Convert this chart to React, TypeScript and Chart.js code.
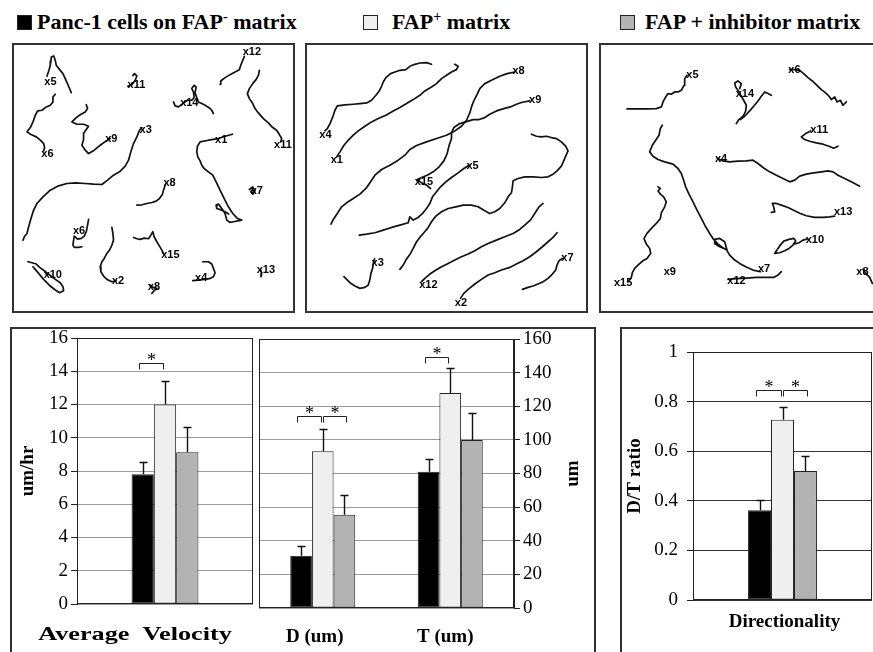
import React, { useEffect, useRef } from "react";
import { Chart, registerables } from "chart.js";

Chart.register(...registerables);

// ---------- Legend / series ----------
const seriesHead = ["Panc-1 cells on FAP", "FAP", "FAP + inhibitor matrix"];
const seriesSup = ["-", "+", ""];
const seriesTail = [" matrix", " matrix", ""];
const seriesFill = ["#000000", "#efefef", "#b3b3b3"];

// ---------- Average velocity (um/hr) ----------
const velocityCategories = ["Average  Velocity"];
const velocityFapNeg = [7.8];
const velocityFapPos = [12.0];
const velocityFapInh = [9.13];
const velocityErrFapNeg = [0.74];
const velocityErrFapPos = [1.43];
const velocityErrFapInh = [1.49];
const velocityMax = 16;
const velocityStep = 2;
// [category, fromSeries, toSeries, level]
const velocitySig = [[0, 0, 1, 14.5]];

// ---------- Distance D and total path T (um) ----------
const distCategories = ["D (um)", "T (um)"];
const distFapNeg = [31.1, 81.1];
const distFapPos = [93.3, 127.9];
const distFapInh = [55.4, 100.0];
const distErrFapNeg = [5.7, 7.7];
const distErrFapPos = [13.2, 14.6];
const distErrFapInh = [11.8, 16.2];
const distMax = 160;
const distStep = 20;
const distSig = [
  [0, 0, 1, 114],
  [0, 1, 2, 114],
  [1, 0, 1, 149],
];

// ---------- Directionality (D/T ratio) ----------
const ratioCategories = ["Directionality"];
const ratioFapNeg = [0.362];
const ratioFapPos = [0.727];
const ratioFapInh = [0.52];
const ratioErrFapNeg = [0.042];
const ratioErrFapPos = [0.053];
const ratioErrFapInh = [0.061];
const ratioMax = 1;
const ratioStep = 0.2;
const ratioSig = [
  [0, 0, 1, 0.848],
  [0, 1, 2, 0.848],
];

// ---------- Cell tracks (image units) ----------
const fapNegTracks = [
  [[213,157],[205,138],[198,122],[188,100],[178,88],[168,75],[165,60],[160,47],[153,50],[152,62],[150,75],[146,90],[140,108]],
  [[383,138],[395,133],[405,120],[410,107],[403,100],[398,106]],
  [[165,162],[158,170],[158,185],[150,195],[138,200],[125,210],[112,212],[105,225],[98,245],[90,262],[80,275],[92,283],[108,290],[120,300],[130,310],[133,322],[130,332]],
  [[258,193],[262,205],[255,215],[242,222],[228,232],[215,245],[230,252],[250,252],[265,258],[258,268],[250,280],[250,298],[245,315],[255,330],[265,340],[282,330],[300,315],[318,302],[330,295]],
  [[425,262],[418,270],[410,290],[400,310],[392,335],[385,360],[375,378],[358,395],[340,405],[322,420],[305,433],[280,432],[255,430],[225,428],[200,430],[175,437],[150,450],[128,470],[110,490],[100,510],[92,535],[85,560],[80,580],[72,590],[68,600]],
  [[520,185],[525,197],[535,200],[548,190],[562,180],[575,180],[582,172],[580,155],[575,145],[582,135],[588,140],[585,158],[590,172],[595,185],[605,190],[615,195],[628,203],[635,210],[640,220]],
  [[660,132],[662,122],[675,112],[690,103],[705,95],[718,88],[722,75],[728,60],[733,48]],
  [[778,90],[775,105],[768,118],[758,130],[748,145],[742,160],[748,175],[758,190],[765,205],[775,218],[790,235],[805,248],[818,262],[830,270],[838,283],[845,295],[842,305]],
  [[697,282],[675,288],[655,295],[625,300],[600,305],[592,318],[590,335],[593,350],[600,362],[605,375],[612,385],[625,395],[638,405],[648,425],[660,450],[672,475],[685,500],[698,520],[712,535],[725,540],[700,545],[690,547],[680,540],[675,520],[665,505],[655,492],[648,495],[650,505],[665,510],[680,518],[686,522]],
  [[748,448],[758,440],[765,452],[758,462],[752,455],[760,446]],
  [[410,495],[425,494],[440,490],[455,487],[468,483],[478,475],[487,462],[490,450],[496,432]],
  [[265,538],[262,555],[258,575],[252,588],[243,595],[232,597],[222,588],[220,600],[218,615],[222,622],[235,622],[245,620]],
  [[335,562],[338,580],[340,600],[335,615],[328,630],[320,640],[312,655],[305,665],[300,680],[302,695],[310,708],[320,718],[335,725],[348,722]],
  [[400,592],[410,596],[420,598],[432,594],[445,596],[452,585],[458,575],[462,590],[470,605],[478,618],[485,630],[490,640]],
  [[83,665],[95,668],[108,672],[118,682],[132,692],[148,705],[165,718],[180,728],[188,740],[190,752],[178,758],[165,750],[150,738],[130,718],[115,700],[105,688],[98,680]],
  [[608,665],[625,665],[635,672],[640,685],[645,698],[640,710],[628,716],[612,718],[595,720],[578,722]],
  [[450,735],[458,742],[470,745],[462,752],[455,760]],
  [[782,690],[785,700],[783,710]],
];
const fapNegNames = ["x5","x11","x14","x12","x3","x9","x6","x1","x11","x8","x7","x6","x15","x10","x2","x4","x13","x8"];
const fapNegSpots = [[132,125],[382,133],[540,188],[728,35],[418,268],[315,297],[123,342],[645,300],[822,315],[490,428],[752,452],[218,572],[483,645],[130,705],[335,722],[585,713],[770,690],[443,740]];

const fapPosTracks = [
  [[395,72],[380,67],[360,68],[345,72],[330,78],[318,88],[300,90],[285,95],[272,100],[258,112],[250,125],[245,138],[238,152],[228,165],[215,180],[200,188],[180,190],[160,192],[135,194],[112,197],[105,210],[100,225],[95,238],[90,250],[82,265],[75,272]],
  [[465,72],[475,78],[470,88],[455,95],[440,105],[425,115],[410,130],[395,140],[375,152],[360,165],[340,178],[320,190],[300,202],[280,212],[258,225],[235,235],[215,245],[195,258],[175,272],[160,285],[145,300],[132,315],[120,335],[110,350]],
  [[645,95],[622,100],[600,108],[575,120],[555,130],[540,145],[532,162],[522,182],[515,200],[510,218],[500,240],[485,258],[465,272],[440,285],[410,295],[380,305],[350,316],[330,328],[315,345],[295,360],[270,375],[245,388],[225,405],[212,425],[198,445],[180,462],[160,475],[140,488],[125,500],[112,520],[100,538],[93,552]],
  [[690,182],[668,186],[650,192],[632,200],[612,205],[590,212],[570,222],[555,232],[538,238],[520,238],[500,244],[480,250],[462,262],[455,278],[455,295],[448,315],[442,340],[432,362],[418,380],[400,395],[382,405],[365,412],[352,418],[365,428],[380,435],[392,445]],
  [[508,375],[492,385],[475,398],[455,412],[438,425],[422,440],[410,455],[398,470],[390,490],[380,505],[368,520],[355,532],[340,540],[330,530],[325,548],[300,555],[275,562],[250,570],[225,578],[200,582],[178,585]],
  [[695,282],[710,288],[725,290],[740,288],[755,292],[770,295],[785,305],[798,318],[805,332],[798,348],[792,362],[785,378],[772,392],[760,402],[745,410],[725,412],[700,410],[675,410],[655,415],[640,422],[638,440],[635,458],[625,470],[615,488],[600,505],[585,515],[570,520],[555,512],[535,500],[515,495],[490,495],[468,500],[445,505],[425,515],[408,528],[395,545],[385,562],[372,578],[360,592],[350,605],[340,625],[332,640],[318,660],[310,675],[300,688]],
  [[730,490],[718,500],[705,520],[692,540],[675,555],[660,568],[640,580],[615,590],[590,600],[565,610],[545,620],[525,632],[505,642],[485,650],[465,660],[445,670],[425,680],[405,692],[390,702],[375,715],[365,725]],
  [[772,578],[760,592],[745,605],[728,620],[710,635],[690,650],[670,662],[650,672],[630,682],[605,690],[585,698],[565,705],[545,718],[525,732],[505,748],[492,760],[482,775]],
  [[788,655],[778,662],[772,675],[768,690],[758,702],[745,715],[730,725],[715,732],[700,738],[685,742],[668,748]],
  [[132,710],[140,718],[150,728],[165,738],[180,745],[195,742],[205,735],[210,718],[213,700],[218,685],[220,670],[224,656]],
];
const fapPosNames = ["x4","x1","x8","x9","x5","x15","x12","x2","x7","x3"];
const fapPosSpots = [[58,285],[92,360],[638,92],[688,180],[500,378],[345,425],[358,735],[465,789],[785,655],[215,668]];

const fapInhTracks = [
  [[112,206],[140,206],[170,206],[200,205],[215,200],[220,185],[228,170],[235,160],[245,162],[255,155],[265,155],[275,150],[283,135],[285,115],[292,105]],
  [[440,250],[446,240],[455,232],[462,225],[468,212],[470,195],[462,180],[455,168],[448,155],[438,140],[435,128],[445,122],[455,130],[450,145]],
  [[452,238],[465,228],[480,212],[492,198],[505,182],[515,168],[525,155],[535,160],[545,165]],
  [[600,88],[615,88],[630,90],[642,100],[655,112],[668,122],[682,135],[695,148],[708,158],[718,168],[725,178],[735,170],[742,185],[752,180],[760,195],[770,185]],
  [[663,272],[648,280],[635,290],[645,298],[660,303],[680,308],[700,312],[718,318],[732,324],[745,318]],
  [[383,355],[400,362],[420,365],[445,363],[470,362],[490,360],[505,370],[520,382],[540,395],[560,405],[580,415],[600,425],[615,420],[630,408],[650,402],[672,398],[695,395],[715,392],[730,395],[745,405],[765,415],[785,425],[810,438]],
  [[218,255],[212,265],[208,285],[198,300],[188,315],[180,335],[190,348],[205,358],[225,365],[250,372],[265,385],[275,400],[282,420],[288,440],[298,462],[310,485],[322,510],[335,535],[348,560],[360,580],[372,598],[385,612],[398,622],[412,630],[405,605],[390,595],[375,598],[375,610],[390,620],[410,628],[420,645],[435,660],[450,670],[468,680],[490,690],[512,695]],
  [[205,440],[212,445],[205,452],[212,462],[222,470],[230,485],[225,500],[215,518],[212,535],[200,550],[185,565],[172,580],[163,595],[170,612],[180,625],[183,640],[172,655],[160,662],[148,672],[135,685],[128,698],[125,712],[118,722]],
  [[545,517],[555,515],[552,500],[548,490],[560,490],[575,495],[595,502],[615,512],[632,520],[650,527],[675,532],[700,532],[720,530],[735,528]],
  [[555,640],[562,630],[572,615],[582,603],[598,598],[612,595],[618,602],[610,615],[598,625],[585,632],[570,638],[555,640]],
  [[612,612],[628,608],[640,600],[652,597]],
  [[415,718],[440,716],[470,714],[500,712],[530,712],[552,712],[565,705],[575,695]],
  [[820,688],[828,700],[840,712],[848,730]],
];
const fapInhNames = ["x5","x14","x6","x11","x4","x13","x10","x9","x7","x12","x15","x8"];
const fapInhSpots = [[290,103],[438,160],[596,88],[662,270],[376,355],[733,515],[648,600],[222,695],[505,688],[413,722],[73,728],[800,695]];

const SERIF = '"Liberation Serif", "Times New Roman", serif';

type Pt = number[];

function TrackPanel(props: {
  left: number; top: number; width: number; height: number;
  xMin: number; xMax: number; yMin: number; yMax: number;
  tracks: Pt[][]; names: string[]; spots: Pt[];
}) {
  const ref = useRef<HTMLCanvasElement>(null);
  useEffect(() => {
    const { tracks, names, spots } = props;
    const labelPlugin = {
      id: "trackLabels",
      afterDatasetsDraw(chart: any) {
        const ctx = chart.ctx;
        const sx = chart.scales.x;
        const sy = chart.scales.y;
        ctx.save();
        ctx.font = 'bold 11px "Liberation Sans", Arial, sans-serif';
        ctx.fillStyle = "#000";
        ctx.textAlign = "left";
        ctx.textBaseline = "middle";
        names.forEach((n, i) => {
          ctx.fillText(n, sx.getPixelForValue(spots[i][0]), sy.getPixelForValue(spots[i][1]));
        });
        ctx.restore();
      },
    };
    const chart = new Chart(ref.current as HTMLCanvasElement, {
      type: "scatter",
      data: {
        datasets: tracks.map((t, i) => ({
          label: "cell " + (i + 1),
          data: t.map((p) => ({ x: p[0], y: p[1] })),
          showLine: true,
          borderColor: "#111",
          borderWidth: 1.7,
          borderJoinStyle: "round",
          borderCapStyle: "round",
          pointRadius: 0,
          tension: 0,
          fill: false,
        })),
      },
      options: {
        animation: false,
        responsive: false,
        events: [],
        layout: { padding: 0 },
        plugins: { legend: { display: false }, tooltip: { enabled: false } },
        scales: {
          x: { type: "linear", display: false, min: props.xMin, max: props.xMax },
          y: { type: "linear", display: false, min: props.yMin, max: props.yMax, reverse: true },
        },
      },
      plugins: [labelPlugin],
    } as any);
    return () => chart.destroy();
  }, []);
  return (
    <canvas
      ref={ref}
      width={props.width}
      height={props.height}
      style={{ position: "absolute", left: props.left, top: props.top }}
    />
  );
}

type BarProps = {
  left: number; top: number; width: number; height: number;
  area: { left: number; right: number; top: number; bottom: number };
  categories: string[];
  values: number[][];
  errors: number[][];
  yMax: number; yStep: number; yPos: "left" | "right";
  tickPad: number;
  yTitle: string; yTitleX: number;
  xLabels: { index: number; dx: number; y: number }[];
  labelStretch: number;
  brackets: number[][];
  gridColor: string;
  catPct: number;
};

function BarPanel(p: BarProps) {
  const ref = useRef<HTMLCanvasElement>(null);
  useEffect(() => {
    const { area, width, height } = p;
    const axisW = p.yPos === "left" ? area.left : width - area.right;
    const decor = {
      id: "decor",
      afterDatasetsDraw(chart: any) {
        const ctx = chart.ctx;
        const ca = chart.chartArea;
        const ys = chart.scales.y;
        const xs = chart.scales.x;
        ctx.save();
        // plot frame
        ctx.strokeStyle = "#222";
        ctx.lineWidth = 1;
        ctx.strokeRect(ca.left + 0.5, ca.top + 0.5, ca.right - ca.left - 1, ca.bottom - ca.top - 1);
        // error bars
        ctx.strokeStyle = "#111";
        ctx.lineWidth = 1.4;
        p.values.forEach((series, si) => {
          const meta = chart.getDatasetMeta(si);
          series.forEach((v, ci) => {
            const el = meta.data[ci];
            const x = Math.round(el.x) + 0.5;
            const y0 = ys.getPixelForValue(v);
            const y1 = Math.round(ys.getPixelForValue(v + p.errors[si][ci])) + 0.5;
            ctx.beginPath();
            ctx.moveTo(x, y0);
            ctx.lineTo(x, y1);
            ctx.moveTo(x - 4, y1);
            ctx.lineTo(x + 4, y1);
            ctx.stroke();
          });
        });
        // significance brackets
        ctx.lineWidth = 1;
        ctx.strokeStyle = "#222";
        ctx.fillStyle = "#000";
        p.brackets.forEach(([ci, a, b, lvl]) => {
          const xa = chart.getDatasetMeta(a).data[ci].x;
          const xb = chart.getDatasetMeta(b).data[ci].x;
          const l = Math.round(a === 0 ? xa - 4 : xa) + 0.5;
          const r = Math.round(a === 0 ? xb - 2 : xb + 2) + 0.5;
          const y = Math.round(ys.getPixelForValue(lvl)) + 0.5;
          ctx.beginPath();
          ctx.moveTo(l, y + 6);
          ctx.lineTo(l, y);
          ctx.lineTo(r, y);
          ctx.lineTo(r, y + 6);
          ctx.stroke();
          ctx.font = "18px " + SERIF;
          ctx.textAlign = "center";
          ctx.textBaseline = "alphabetic";
          ctx.fillText("*", (l + r) / 2, y + 2);
        });
        // category labels
        ctx.font = "bold 19px " + SERIF;
        ctx.textAlign = "center";
        ctx.textBaseline = "middle";
        p.xLabels.forEach(({ index, dx, y }) => {
          ctx.save();
          ctx.translate(xs.getPixelForValue(index) + dx, y);
          ctx.scale(p.labelStretch, 1);
          ctx.fillText(p.categories[index], 0, 0);
          ctx.restore();
        });
        // axis title
        ctx.translate(p.yTitleX, (ca.top + ca.bottom) / 2);
        ctx.rotate(-Math.PI / 2);
        ctx.fillText(p.yTitle, 0, 0);
        ctx.restore();
      },
    };
    const chart = new Chart(ref.current as HTMLCanvasElement, {
      type: "bar",
      data: {
        labels: p.categories,
        datasets: p.values.map((v, i) => ({
          label: seriesHead[i] + seriesSup[i] + seriesTail[i],
          data: v,
          backgroundColor: seriesFill[i],
          borderColor: "#222",
          borderWidth: 1,
          borderSkipped: false,
          barPercentage: 1,
          categoryPercentage: p.catPct,
        })),
      },
      options: {
        animation: false,
        responsive: false,
        events: [],
        layout: {
          padding: {
            left: p.yPos === "left" ? 0 : area.left,
            right: p.yPos === "right" ? 0 : width - area.right,
            top: area.top,
            bottom: height - area.bottom,
          },
        },
        plugins: { legend: { display: false }, tooltip: { enabled: false } },
        scales: {
          x: { display: false, offset: true },
          y: {
            position: p.yPos,
            min: 0,
            max: p.yMax,
            ticks: {
              stepSize: p.yStep,
              color: "#000",
              padding: p.tickPad,
              font: { family: SERIF, size: 19 },
              callback: (v: number) => String(Number(v.toFixed(2))),
            },
            grid: { color: p.gridColor, lineWidth: 1, drawTicks: true, tickLength: 6, tickColor: "#222" },
            border: { display: true, color: "#222", width: 1 },
            afterFit: (s: any) => {
              s.width = axisW;
            },
          },
        },
      },
      plugins: [decor],
    } as any);
    return () => chart.destroy();
  }, []);
  return (
    <canvas
      ref={ref}
      width={p.width}
      height={p.height}
      style={{ position: "absolute", left: p.left, top: p.top }}
    />
  );
}

const legendPos = [
  { sq: 17, tx: 37 },
  { sq: 363, tx: 392 },
  { sq: 620, tx: 645 },
];

export default function App() {
  const frame = (left: number, top: number, width: number, height: number): React.CSSProperties => ({
    position: "absolute",
    left,
    top,
    width,
    height,
    border: "2px solid #333",
    boxSizing: "border-box",
  });
  return (
    <div style={{ position: "absolute", left: 0, top: 0, width: 873, height: 652, overflow: "hidden", background: "#fff" }}>
      {seriesHead.map((h, i) => (
        <React.Fragment key={i}>
          <div
            style={{
              position: "absolute",
              left: legendPos[i].sq,
              top: 15,
              width: 15,
              height: 15,
              background: seriesFill[i],
              border: "1px solid #222",
              boxSizing: "border-box",
            }}
          />
          <span
            style={{
              position: "absolute",
              left: legendPos[i].tx,
              top: 9,
              font: "bold 22px " + SERIF,
              lineHeight: "25px",
              whiteSpace: "nowrap",
              color: "#000",
            }}
          >
            {h}
            {seriesSup[i] ? <span style={{ fontSize: 14, position: "relative", top: -8 }}>{seriesSup[i]}</span> : null}
            {seriesTail[i]}
          </span>
        </React.Fragment>
      ))}

      <TrackPanel left={12} top={43} width={283} height={270} xMin={35} xMax={885} yMin={8} yMax={819}
        tracks={fapNegTracks} names={fapNegNames} spots={fapNegSpots} />
      <TrackPanel left={305} top={43} width={283} height={270} xMin={15} xMax={865} yMin={8} yMax={819}
        tracks={fapPosTracks} names={fapPosNames} spots={fapPosSpots} />
      <TrackPanel left={599} top={43} width={274} height={270} xMin={28} xMax={850} yMin={8} yMax={819}
        tracks={fapInhTracks} names={fapInhNames} spots={fapInhSpots} />
      <div style={frame(12, 43, 283, 270)} />
      <div style={frame(305, 43, 283, 270)} />
      <div style={frame(599, 43, 300, 270)} />

      <div style={frame(10, 327, 586, 340)} />
      <div style={frame(620, 327, 300, 340)} />

      <BarPanel
        left={12} top={320} width={246} height={332}
        area={{ left: 65, right: 241, top: 18, bottom: 284 }}
        categories={velocityCategories}
        values={[velocityFapNeg, velocityFapPos, velocityFapInh]}
        errors={[velocityErrFapNeg, velocityErrFapPos, velocityErrFapInh]}
        yMax={velocityMax} yStep={velocityStep} yPos="left" tickPad={3}
        yTitle="um/hr" yTitleX={16}
        xLabels={[{ index: 0, dx: -30, y: 315 }]}
        labelStretch={1.38}
        brackets={velocitySig}
        gridColor="#9a9a9a"
        catPct={0.38}
      />
      <BarPanel
        left={258} top={320} width={338} height={332}
        area={{ left: 1, right: 256, top: 19, bottom: 288 }}
        categories={distCategories}
        values={[distFapNeg, distFapPos, distFapInh]}
        errors={[distErrFapNeg, distErrFapPos, distErrFapInh]}
        yMax={distMax} yStep={distStep} yPos="right" tickPad={3}
        yTitle="um" yTitleX={315}
        xLabels={[{ index: 0, dx: -8, y: 317 }, { index: 1, dx: -5, y: 317 }]}
        labelStretch={1}
        brackets={distSig}
        gridColor="#9a9a9a"
        catPct={0.51}
      />
      <BarPanel
        left={620} top={320} width={253} height={332}
        area={{ left: 73, right: 252, top: 32, bottom: 280 }}
        categories={ratioCategories}
        values={[ratioFapNeg, ratioFapPos, ratioFapInh]}
        errors={[ratioErrFapNeg, ratioErrFapPos, ratioErrFapInh]}
        yMax={ratioMax} yStep={ratioStep} yPos="left" tickPad={9}
        yTitle="D/T ratio" yTitleX={15}
        xLabels={[{ index: 0, dx: 2, y: 302 }]}
        labelStretch={1}
        brackets={ratioSig}
        gridColor="#333"
        catPct={0.385}
      />
    </div>
  );
}
